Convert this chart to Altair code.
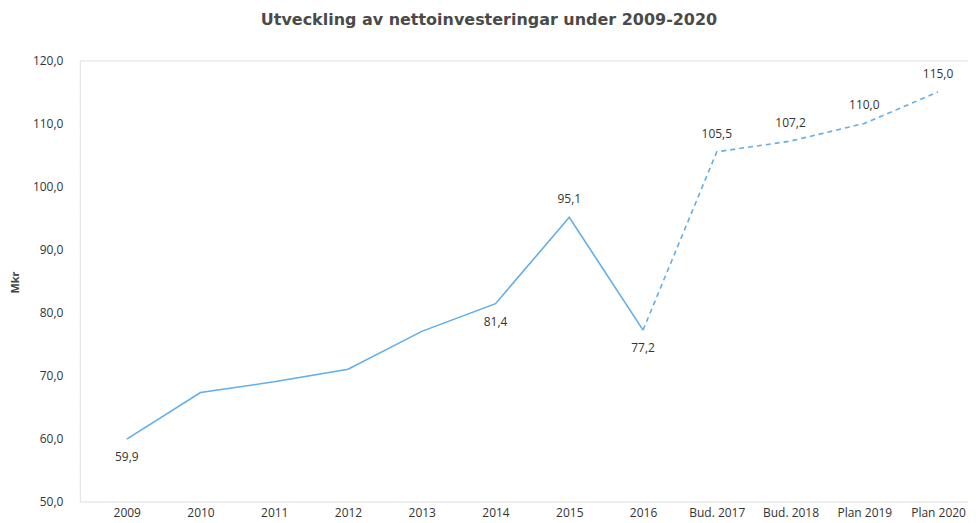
import altair as alt
import pandas as pd

categories = ["2009", "2010", "2011", "2012", "2013", "2014", "2015", "2016",
              "Bud. 2017", "Bud. 2018", "Plan 2019", "Plan 2020"]
values = [59.9, 67.3, 69.0, 71.0, 77.0, 81.4, 95.1, 77.2, 105.5, 107.2, 110.0, 115.0]
point_labels = ["59,9", "", "", "", "", "81,4", "95,1", "77,2", "105,5", "107,2", "110,0", "115,0"]
label_side = ["below", "", "", "", "", "below", "above", "below", "above", "above", "above", "above"]
y_ticks = [50, 60, 70, 80, 90, 100, 110, 120]
title_text = "Utveckling av nettoinvesteringar under 2009-2020"
y_title = "Mkr"

df = pd.DataFrame({"cat": categories, "value": values, "label": point_labels, "side": label_side})
solid_df = df.iloc[:8]
dashed_df = df.iloc[7:]

FONT = "Open Sans"
LINE = "#62aee8"

x_enc = alt.X("cat:N", sort=categories, title=None,
              scale=alt.Scale(type="point", range=[47, 860], padding=0),
              axis=alt.Axis(labelAngle=0, domain=False, ticks=False, labelPadding=6,
                            labelFont=FONT, labelFontSize=12, labelColor="#333333"))
y_enc = alt.Y("value:Q",
              scale=alt.Scale(domain=[50, 120], nice=False, zero=False),
              axis=alt.Axis(values=y_ticks, grid=False, ticks=False, labelPadding=17,
                            labelExpr="replace(format(datum.value, '.1f'), '.', ',')",
                            labelFont=FONT, labelFontSize=12, labelColor="#333333",
                            domainColor="#e8e8e8", domainDash=[2, 3],
                            title=y_title, titleFont=FONT, titleFontSize=11, titleFontWeight="bold",
                            titleColor="#444444", titleX=-59, titleY=222, titleAngle=-90))

solid = alt.Chart(solid_df).mark_line(color=LINE, strokeWidth=1.6).encode(x=x_enc, y=y_enc)
dashed = alt.Chart(dashed_df).mark_line(color=LINE, strokeWidth=1.6, strokeDash=[5, 4]).encode(x=x_enc, y=y_enc)

below = alt.Chart(df).transform_filter("datum.side == 'below'").mark_text(
    dy=18, font=FONT, fontSize=12, color="#333333").encode(x=x_enc, y=y_enc, text="label:N")
above = alt.Chart(df).transform_filter("datum.side == 'above'").mark_text(
    dy=-18, font=FONT, fontSize=12, color="#333333").encode(x=x_enc, y=y_enc, text="label:N")

chart = alt.layer(solid, dashed, below, above).properties(
    width=890, height=442,
    title=alt.TitleParams(title_text, font="DejaVu Sans", fontSize=16, fontWeight="bold",
                          color="#4a4a4a", anchor="middle", dx=-35, offset=26),
    autosize=alt.AutoSizeParams(type="none"),
    padding={"left": 72, "top": 52, "right": 0, "bottom": 20},
).configure_view(stroke=None).configure(background="white")

chart.save("out.html", embed_options={"renderer": "svg", "actions": False})
